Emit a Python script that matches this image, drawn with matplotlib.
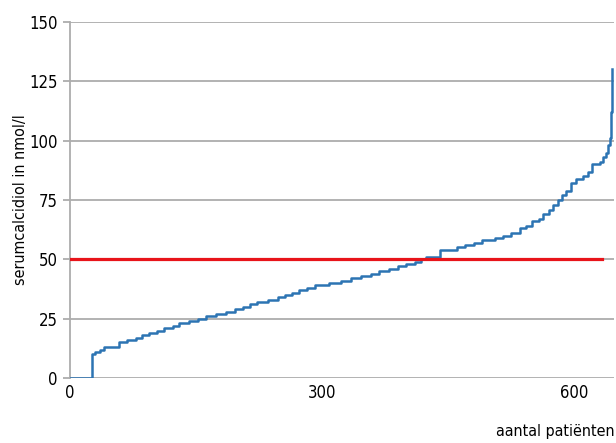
# Cumulative plot of serum calcidiol per patient (sorted), with 50 nmol/l cut-off

import numpy as np
import matplotlib.pyplot as plt

plt.rcParams['font.family'] = ['DejaVu Sans']
plt.rcParams['font.stretch'] = 'condensed'

# step corners: patient rank -> value (nmol/l)
rank = [0, 26, 30, 36, 40, 58, 68, 78, 86, 94, 104, 112, 122, 130, 142, 152,
        162, 174, 186, 196, 206, 214, 222, 236, 248, 256, 264, 272, 282, 292,
        308, 322, 334, 346, 358, 368, 380, 390, 400, 410, 418, 424, 440, 460,
        470, 480, 490, 505, 515, 525, 535, 542, 550, 558, 563, 570, 575, 580,
        585, 590, 596, 602, 610, 616, 621, 630, 634, 637, 640, 642, 643, 644,
        645]
calcidiol = [0, 10, 11, 12, 13, 15, 16, 17, 18, 19, 20, 21, 22, 23, 24, 25,
             26, 27, 28, 29, 30, 31, 32, 33, 34, 35, 36, 37, 38, 39,
             40, 41, 42, 43, 44, 45, 46, 47, 48, 49, 50, 51, 54, 55,
             56, 57, 58, 59, 60, 61, 63, 64, 66, 67, 69, 71, 73, 75,
             77, 79, 82, 84, 85, 87, 90, 91, 93, 95, 98, 101, 105, 112,
             130]

cutoff = 50
cutoff_end = 633

y_ticks = [0, 25, 50, 75, 100, 125, 150]
x_ticks = [0, 300, 600]

GRID = '#adadad'

fig = plt.figure(figsize=(6.16, 4.43), dpi=100)
ax = fig.add_axes([0.1136, 0.1467, 0.8831, 0.8036])

ax.set_xlim(0, 647)
ax.set_ylim(0, 150)
ax.set_yticks(y_ticks)
ax.set_xticks(x_ticks)

# horizontal grid only
for v in y_ticks:
    ax.axhline(v, color=GRID, lw=1.3, zorder=1)

ax.step(rank, calcidiol, where='post', color='#2c74b3', lw=1.8, zorder=3)
ax.plot([0, cutoff_end], [cutoff, cutoff], color='#e8141a', lw=2.3, zorder=4)

for s in ['top', 'right', 'bottom']:
    ax.spines[s].set_visible(False)
ax.spines['left'].set_color(GRID)
ax.spines['left'].set_linewidth(1.3)

ax.tick_params(axis='y', length=5, width=1.3, color=GRID, labelsize=12, pad=4)
ax.tick_params(axis='x', length=0, labelsize=12, pad=4)

ax.set_ylabel('serumcalcidiol in nmol/l', fontsize=11.5, labelpad=1)
fig.text(0.901, 0.025, 'aantal patiënten', fontsize=11.5, ha='center', va='center')

fig.savefig('out.png', dpi=100)
